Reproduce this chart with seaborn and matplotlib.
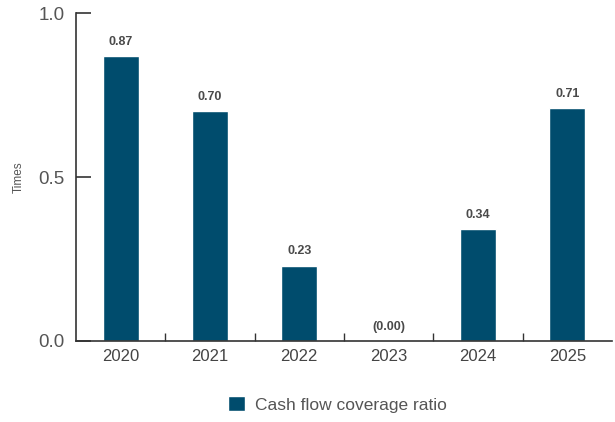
import pandas as pd
import numpy as np
import matplotlib
matplotlib.use('Agg')
import matplotlib.pyplot as plt
import seaborn as sns

years = ['2020', '2021', '2022', '2023', '2024', '2025']
ratio = [0.87, 0.70, 0.23, 0.00, 0.34, 0.71]
labels = ['0.87', '0.70', '0.23', '(0.00)', '0.34', '0.71']
series_name = 'Cash flow coverage ratio'

BAR = '#004c6d'
GREY = '#555555'

sns.set_style('white')
plt.rcParams['font.family'] = ['Liberation Sans', 'DejaVu Sans']

data = pd.DataFrame({'year': years, 'ratio': ratio, 'series': series_name})

fig = plt.figure(figsize=(6.15, 4.22), dpi=100)
ax = fig.add_axes([0.1236, 0.192, 0.8714, 0.777])
sns.barplot(data=data, x='year', y='ratio', hue='series', palette=[BAR],
            width=0.4, ax=ax, saturation=1)

for i, (v, t) in enumerate(zip(ratio, labels)):
    ax.text(i, v + 0.025, t, ha='center', va='bottom', fontsize=9,
            fontweight='bold', color='#4a4a4a')

ax.set_xlim(-0.5, 5.5)
ax.set_ylim(0, 1.0)
ax.set_yticks([0, 0.5, 1.0])
ax.set_yticklabels(['0.0', '0.5', '1.0'])
ax.set_xlabel('')
ax.set_ylabel('Times', fontsize=8.5, color=GREY, labelpad=10)

for s in ['top', 'right']:
    ax.spines[s].set_visible(False)
for s in ['left', 'bottom']:
    ax.spines[s].set_color('#333333')
    ax.spines[s].set_linewidth(1.2)

ax.tick_params(axis='y', left=True, direction='in', length=11, width=1.2,
               color='#333333', labelsize=13.5, labelcolor=GREY, pad=8)
ax.tick_params(axis='x', which='major', length=0, labelsize=12,
               labelcolor='#444444', pad=6)
ax.set_xticks(np.arange(0.5, 5.0, 1.0), minor=True)
ax.tick_params(axis='x', which='minor', bottom=True, direction='in', length=6,
               width=1, color='#333333')

leg = ax.legend(loc='upper center', bbox_to_anchor=(0.488, -0.12), frameon=False,
                fontsize=12.5, handlelength=1.0, handleheight=1.0,
                handletextpad=0.6)
for t in leg.get_texts():
    t.set_color(GREY)

fig.savefig('out.png', dpi=100)
